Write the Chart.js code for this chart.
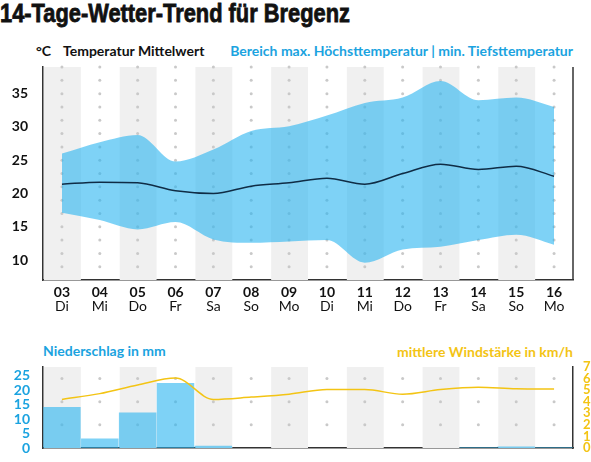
<!DOCTYPE html>
<html>
<head>
<meta charset="utf-8">
<script src="https://cdn.jsdelivr.net/npm/chart.js@4"></script>
<style>
  body { margin: 0; background: #fff; }
  #wrap { position: relative; width: 591px; height: 462px; overflow: hidden; font-family: Lato, sans-serif; }
  .lbl { position: absolute; white-space: nowrap; font-weight: bold; font-size: 14px; line-height: 16px; }
  #title { left: 0; top: -2px; font-family: "Liberation Sans", sans-serif; font-size: 26px; line-height: 30px; color: #111;
           -webkit-text-stroke: 0.8px #111; transform: scaleX(0.84); transform-origin: 0 0; }
  canvas { position: absolute; left: 0; }
</style>
</head>
<body>
<div id="wrap">
  <div id="title" class="lbl">14-Tage-Wetter-Trend für Bregenz</div>
  <div class="lbl" style="left:36px; top:43px; color:#111;">°C</div>
  <div class="lbl" style="left:63px; top:43px; color:#111;">Temperatur Mittelwert</div>
  <div class="lbl" style="right:18px; top:43px; color:#1ba3e0;">Bereich max. Höchsttemperatur | min. Tiefsttemperatur</div>
  <div class="lbl" style="left:43px; top:343px; color:#1ba3e0;">Niederschlag in mm</div>
  <div class="lbl" style="right:18px; top:344px; color:#f3c414;">mittlere Windstärke in km/h</div>
  <canvas id="tempChart" style="top:0" width="591" height="320"></canvas>
  <canvas id="rainChart" style="top:330px" width="591" height="132"></canvas>
</div>
<script>
// day labels
const days = ['03', '04', '05', '06', '07', '08', '09', '10', '11', '12', '13', '14', '15', '16'];
const weekdays = ['Di', 'Mi', 'Do', 'Fr', 'Sa', 'So', 'Mo', 'Di', 'Mi', 'Do', 'Fr', 'Sa', 'So', 'Mo'];

// temperatures in °C
const tempMax = [26, 27.7, 28.8, 24.8, 26.6, 29.4, 30.1, 31.7, 33.6, 34.4, 36.9, 34.0, 34.4, 33.0];
const tempMin = [17.1, 16.0, 14.6, 15.7, 13.1, 12.6, 12.8, 13.0, 9.6, 11.6, 12.0, 13.0, 13.8, 12.3];
const tempMean = [21.4, 21.7, 21.6, 20.4, 20.0, 21.1, 21.6, 22.3, 21.4, 23.0, 24.4, 23.6, 24.1, 22.6];
const tempTicks = [10, 15, 20, 25, 30, 35];

// precipitation (mm) and wind (km/h)
const rain = [14.2, 3.3, 12.3, 22.5, 0.8, 0, 0, 0, 0, 0, 0, 0.3, 0.5, 0.3];
const wind = [4.2, 4.7, 5.45, 6.05, 4.2, 4.4, 4.65, 5.05, 5.05, 4.65, 5.05, 5.25, 5.12, 5.1];
const rainTicks = [0, 5, 10, 15, 20, 25];

const blue = '#1ba3e0';
const yellow = '#f3c414';
const fillBlue = 'rgba(40, 180, 240, 0.6)';

// grey stripes + dotted columns behind the data
function stripes(dotScale, dotValues) {
    return {
        id: 'stripes',
        beforeDatasetsDraw(chart) {
            const { ctx, chartArea } = chart;
            const x = chart.scales.x;
            const ys = chart.scales[dotScale];
            const w = x.getPixelForValue(1) - x.getPixelForValue(0);
            ctx.save();
            ctx.fillStyle = '#f0f0f0';
            days.forEach((d, i) => {
                if (i % 2 === 0) {
                    const cx = x.getPixelForValue(i);
                    ctx.fillRect(cx - w / 2 + 1, chartArea.top, w - 1, chartArea.bottom - chartArea.top);
                }
            });
            ctx.fillStyle = '#c9c9c9';
            days.forEach((d, i) => {
                const cx = x.getPixelForValue(i);
                dotValues.forEach(v => {
                    ctx.beginPath();
                    ctx.arc(cx, ys.getPixelForValue(v), 1.5, 0, Math.PI * 2);
                    ctx.fill();
                });
            });
            ctx.restore();
        }
    };
}

// date + weekday under each column, and the right border line
const extras = {
    id: 'extras',
    afterDraw(chart) {
        const { ctx, chartArea } = chart;
        const x = chart.scales.x;
        ctx.save();
        ctx.fillStyle = '#111';
        ctx.textAlign = 'center';
        ctx.textBaseline = 'middle';
        days.forEach((d, i) => {
            const cx = x.getPixelForValue(i);
            ctx.font = 'bold 14px Lato, sans-serif';
            ctx.fillText(d, cx, chartArea.bottom + 12.5);
            ctx.font = '14px Lato, sans-serif';
            ctx.fillText(weekdays[i], cx, chartArea.bottom + 26.5);
        });
        ctx.strokeStyle = '#333';
        ctx.lineWidth = 1.5;
        ctx.beginPath();
        ctx.moveTo(chartArea.right, chartArea.top);
        ctx.lineTo(chartArea.right, chartArea.bottom);
        ctx.stroke();
        ctx.restore();
    }
};

const dotValues = [];
for (let v = 9; v <= 39; v += 2) dotValues.push(v);

new Chart(document.getElementById('tempChart'), {
    type: 'line',
    data: {
        labels: days,
        datasets: [{
            label: 'Mittelwert',
            data: tempMean,
            borderColor: '#0f2c45',
            borderWidth: 1.5,
            pointRadius: 0,
            fill: false,
            cubicInterpolationMode: 'monotone'
        }, {
            label: 'max',
            data: tempMax,
            borderWidth: 0,
            borderColor: 'rgba(0,0,0,0)',
            pointRadius: 0,
            fill: false,
            cubicInterpolationMode: 'monotone'
        }, {
            label: 'min',
            data: tempMin,
            borderWidth: 0,
            borderColor: 'rgba(0,0,0,0)',
            backgroundColor: fillBlue,
            pointRadius: 0,
            fill: '-1',
            cubicInterpolationMode: 'monotone'
        }]
    },
    options: {
        responsive: false,
        animation: false,
        layout: { padding: { top: 67, right: 18, left: 0, bottom: 0 } },
        plugins: { legend: { display: false }, tooltip: { enabled: false } },
        scales: {
            x: {
                offset: true,
                grid: { display: false },
                border: { color: '#333', width: 1.5 },
                afterFit: s => { s.height = 40; },
                ticks: { display: false }
            },
            y: {
                min: 7,
                max: 39,
                grid: { display: false },
                border: { color: '#333', width: 1.5 },
                afterFit: s => { s.width = 43; },
                afterBuildTicks: s => { s.ticks = tempTicks.map(v => ({ value: v })); },
                ticks: { color: '#111', font: { family: 'Lato', size: 14, weight: 'bold' }, padding: 7 }
            }
        }
    },
    plugins: [stripes('y', dotValues), extras]
});

new Chart(document.getElementById('rainChart'), {
    data: {
        labels: days,
        datasets: [{
            type: 'line',
            label: 'Wind',
            data: wind,
            yAxisID: 'y1',
            borderColor: yellow,
            borderWidth: 1.5,
            pointRadius: 0,
            cubicInterpolationMode: 'monotone',
            order: 0
        }, {
            type: 'bar',
            label: 'Niederschlag',
            data: rain,
            yAxisID: 'y',
            backgroundColor: fillBlue,
            barPercentage: 1,
            categoryPercentage: 0.99,
            order: 1
        }]
    },
    options: {
        responsive: false,
        animation: false,
        layout: { padding: { top: 37, right: 0, left: 0, bottom: 0 } },
        plugins: { legend: { display: false }, tooltip: { enabled: false } },
        scales: {
            x: {
                offset: true,
                grid: { display: false },
                border: { color: '#333', width: 1.5 },
                afterFit: s => { s.height = 14; },
                ticks: { display: false }
            },
            y: {
                min: 0,
                max: 28,
                grid: { display: false },
                border: { color: '#333', width: 1.5 },
                afterFit: s => { s.width = 43; },
                afterBuildTicks: s => { s.ticks = rainTicks.map(v => ({ value: v })); },
                ticks: { color: blue, font: { family: 'Lato', size: 14, weight: 'bold' }, padding: 5, autoSkip: false }
            },
            y1: {
                position: 'right',
                min: 0,
                max: 7,
                grid: { display: false },
                border: { color: '#333', width: 1.5 },
                afterFit: s => { s.width = 18; },
                ticks: { stepSize: 1, color: yellow, font: { family: 'Lato', size: 13, weight: 'bold' }, padding: 2, autoSkip: false }
            }
        }
    },
    plugins: [stripes('y1', [2, 4, 6])]
});
</script>
</body>
</html>
